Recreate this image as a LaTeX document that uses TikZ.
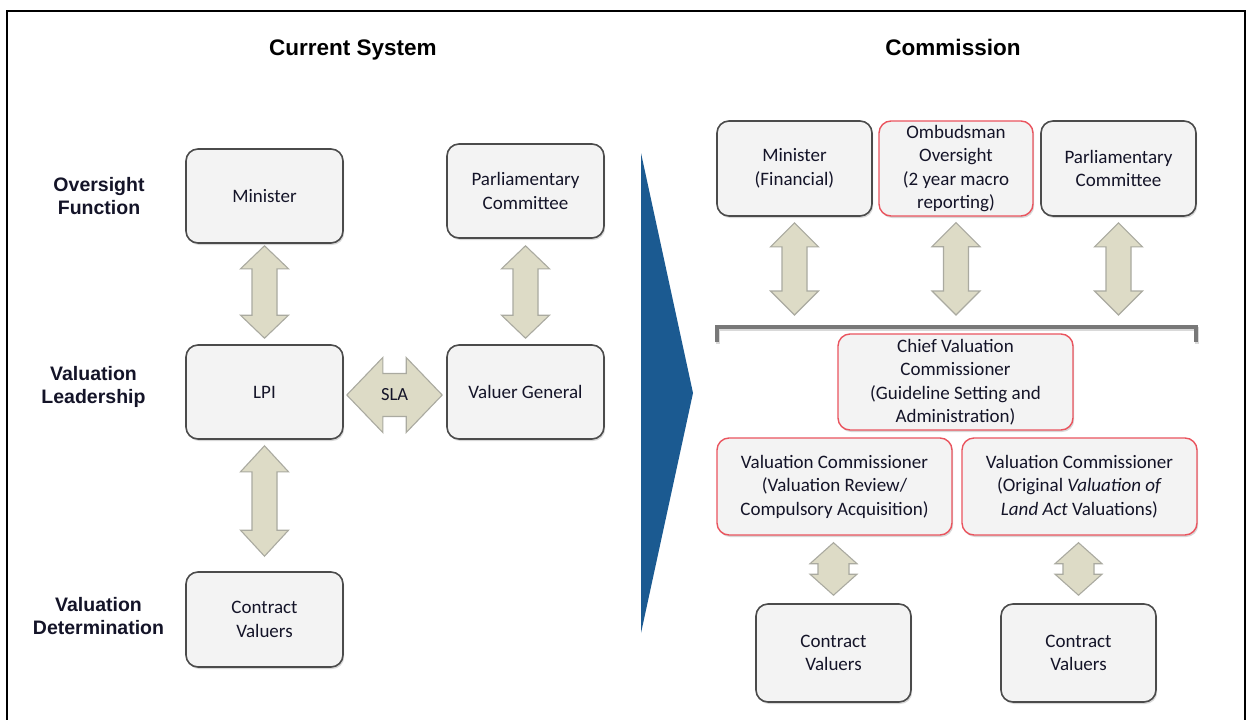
\documentclass[tikz,border=0pt]{standalone}
\usepackage{fontspec}
\setmainfont{Carlito}
\newfontfamily\headfont{Liberation Sans}
\usetikzlibrary{shadows,calc}
\definecolor{boxfill}{RGB}{243,243,243}
\definecolor{boxline}{RGB}{75,75,75}
\definecolor{redline}{RGB}{234,84,94}
\definecolor{arrowfill}{RGB}{221,219,198}
\definecolor{arrowline}{RGB}{170,170,160}
\definecolor{wedgeblue}{RGB}{27,90,145}
\definecolor{txt}{RGB}{20,20,40}
\definecolor{bracketgray}{RGB}{120,120,120}

\newcommand\vblock[5]{% top tip, bottom tip, head length, shaft half width, head half width
  \draw[blockarrow] (#1) -- ([shift={(#5,#3)}]#1) -- ([shift={(#4,#3)}]#1)
    -- ([shift={(#4,-#3)}]#2) -- ([shift={(#5,-#3)}]#2) -- (#2)
    -- ([shift={(-#5,-#3)}]#2) -- ([shift={(-#4,-#3)}]#2)
    -- ([shift={(-#4,#3)}]#1) -- ([shift={(-#5,#3)}]#1) -- cycle;}
\newcommand\hblock[5]{% left tip, right tip, head length, shaft half width, head half width
  \draw[blockarrow] (#1) -- ([shift={(#3,-#5)}]#1) -- ([shift={(#3,-#4)}]#1)
    -- ([shift={(-#3,-#4)}]#2) -- ([shift={(-#3,-#5)}]#2) -- (#2)
    -- ([shift={(-#3,#5)}]#2) -- ([shift={(-#3,#4)}]#2)
    -- ([shift={(#3,#4)}]#1) -- ([shift={(#3,#5)}]#1) -- cycle;}

\begin{document}
\begin{tikzpicture}[x=1pt,y=-1pt,
  box/.style={draw=boxline, line width=1.6pt, fill=boxfill, rounded corners=12pt,
    align=center, text=txt, font=\fontsize{19}{23.5}\selectfont, inner sep=2pt,
    drop shadow={shadow xshift=1.2pt, shadow yshift=-2pt, opacity=.3}},
  redbox/.style={box, draw=redline, line width=1.4pt},
  rowlabel/.style={align=center, font=\headfont\bfseries\fontsize{19.5}{23}\selectfont, text=txt},
  coltitle/.style={anchor=base, font=\headfont\bfseries\fontsize{22.5}{27}\selectfont, text=black},
  blockarrow/.style={fill=arrowfill, draw=arrowline, line width=1.1pt, line join=miter},
  wedge/.style={fill=wedgeblue},
  bracket/.style={draw=bracketgray, line width=3.2pt}]

\useasboundingbox (0,0) rectangle (1253,720);
\fill[white] (0,0) rectangle (1253,720);
\draw[black, line width=2pt] (7,720) -- (7,11) -- (1245,11) -- (1245,720);

% titles
\node[coltitle] (t1) at (353,55) {Current System};
\node[coltitle] (t2) at (953,55) {Commission};

% row labels
\node[rowlabel] (r1) at (99,196) {Oversight\\Function};
\node[rowlabel] (r2) at (93.5,387) {Valuation\\Leadership};
\node[rowlabel] (r3) at (98.5,616) {Valuation\\Determination};

% left boxes
\node[box, minimum width=157pt, minimum height=94pt] (min) at (264.5,196) {Minister};
\node[box, minimum width=157pt, minimum height=94pt] (parl) at (525.5,191) {Parliamentary\\Committee};
\node[box, minimum width=157pt, minimum height=94pt] (lpi) at (264.5,392) {LPI};
\node[box, minimum width=157pt, minimum height=94pt] (vg) at (525.5,392) {Valuer General};
\node[box, minimum width=157pt, minimum height=95pt] (cv) at (264.5,619.5) {Contract\\Valuers};

% left arrows
\coordinate (a1t) at ([shift={(0,2)}]min.south);
\coordinate (a1b) at ([shift={(0,-6)}]lpi.north);
\vblock{a1t}{a1b}{23}{12.5}{24}
\coordinate (a2t) at ([shift={(0,7)}]parl.south);
\coordinate (a2b) at ([shift={(0,-6)}]vg.north);
\vblock{a2t}{a2b}{23}{12.5}{24}
\coordinate (a3t) at ([shift={(0,6)}]lpi.south);
\coordinate (a3b) at ([shift={(0,-15)}]cv.north);
\vblock{a3t}{a3b}{26}{12.5}{24}
\coordinate (slal) at ([shift={(3,3)}]lpi.east);
\coordinate (slar) at ([shift={(-4,3)}]vg.west);
\hblock{slal}{slar}{36}{21.5}{37.5}
\node[text=txt, font=\fontsize{18.5}{22}\selectfont] (sla) at ($(slal)!0.5!(slar)$) {SLA};

% blue wedge
\fill[wedge] (641,153) -- (693,393) -- (641,633) -- cycle;

% right top boxes
\node[box, minimum width=155pt, minimum height=95pt] (rmin) at (794.5,168.5) {Minister\\(Financial)};
\node[redbox, minimum width=154pt, minimum height=95pt] (omb) at (956,168.5) {Ombudsman\\Oversight\\(2 year macro\\reporting)};
\node[box, minimum width=155pt, minimum height=95pt] (rparl) at (1118.5,168.5) {Parliamentary\\Committee};

% bracket
\coordinate (brL) at (717,327);
\coordinate (brR) at (1196,327);
\draw[bracket, draw=black!15] ([shift={(1,17)}]brL) -- ([shift={(1,2)}]brL) -- ([shift={(1,2)}]brR) -- ([shift={(1,17)}]brR);
\draw[bracket] ([shift={(0,15)}]brL) -- (brL) -- (brR) -- ([shift={(0,15)}]brR);

% right top arrows
\coordinate (b1t) at ([shift={(0,6)}]rmin.south);
\coordinate (b1m) at (rmin.south |- brL);
\coordinate (b1b) at ([shift={(0,-12)}]b1m);
\vblock{b1t}{b1b}{24}{12.5}{24}
\coordinate (b2t) at ([shift={(0,6)}]omb.south);
\coordinate (b2m) at (omb.south |- brL);
\coordinate (b2b) at ([shift={(0,-12)}]b2m);
\vblock{b2t}{b2b}{24}{12.5}{24}
\coordinate (b3t) at ([shift={(0,6)}]rparl.south);
\coordinate (b3m) at (rparl.south |- brL);
\coordinate (b3b) at ([shift={(0,-12)}]b3m);
\vblock{b3t}{b3b}{24}{12.5}{24}

% commissioners
\node[redbox, minimum width=235pt, minimum height=96pt] (chief) at (955.5,382) {Chief Valuation\\Commissioner\\(Guideline Setting and\\Administration)};
\node[redbox, minimum width=235pt, minimum height=97pt] (vc1) at (834.5,486.5) {Valuation Commissioner\\(Valuation Review/\\Compulsory Acquisition)};
\node[redbox, minimum width=235pt, minimum height=97pt] (vc2) at (1079.5,486.5) {Valuation Commissioner\\(Original \textit{Valuation of}\\\textit{Land Act} Valuations)};

% contract valuers right
\node[box, minimum width=155pt, minimum height=98pt] (cv1) at (833.5,653) {Contract\\Valuers};
\node[box, minimum width=155pt, minimum height=98pt] (cv2) at (1078.5,653) {Contract\\Valuers};

% small arrows
\coordinate (c1t) at ([shift={(-1,7)}]vc1.south);
\coordinate (c1n) at ([shift={(0,-8)}]cv1.north);
\coordinate (c1b) at (c1t |- c1n);
\vblock{c1t}{c1b}{21}{15.5}{23.5}
\coordinate (c2t) at ([shift={(-1,7)}]vc2.south);
\coordinate (c2n) at ([shift={(0,-8)}]cv2.north);
\coordinate (c2b) at (c2t |- c2n);
\vblock{c2t}{c2b}{21}{15.5}{23.5}

\end{tikzpicture}
\end{document}
